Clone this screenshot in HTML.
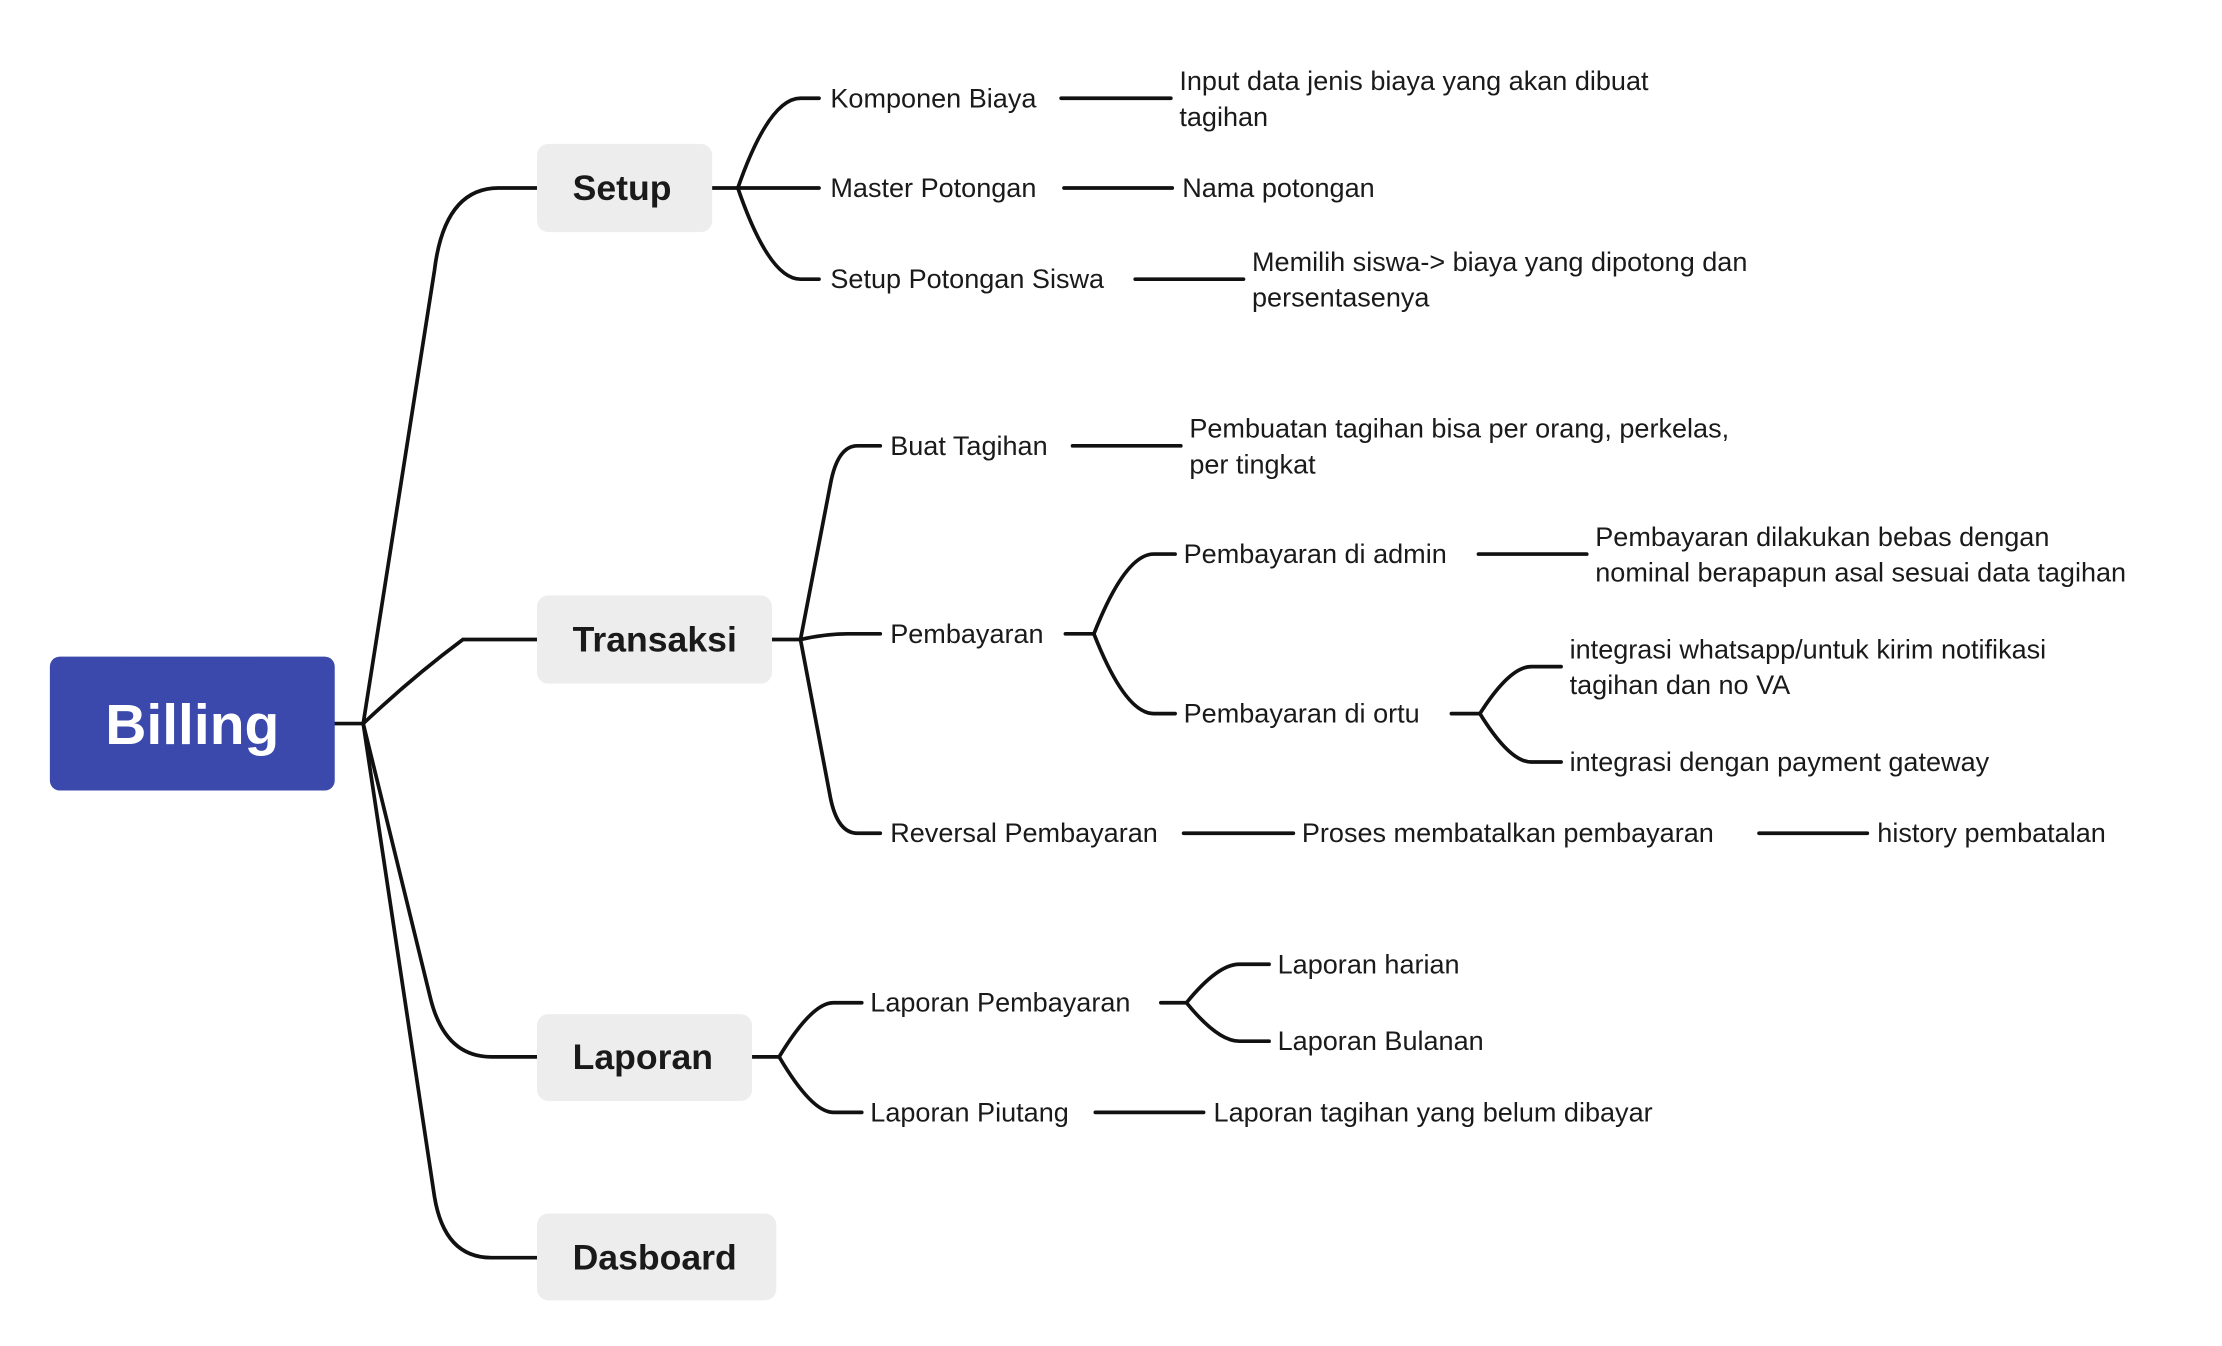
<!DOCTYPE html>
<html><head><meta charset="utf-8"><style>html,body{margin:0;padding:0;background:#fff;}svg{display:block}</style></head>
<body>
<svg width="2222" height="1346" viewBox="0 0 1560 945" xmlns="http://www.w3.org/2000/svg" font-family="Liberation Sans, sans-serif">
<g fill="none" stroke="#111" stroke-width="2.6" stroke-linecap="round">
<path d="M235 508 L255 508"/>
<path d="M255 508 L305 190 Q312 132 350 132 L377 132"/>
<path d="M255 508 Q290 475 325 449 L377 449"/>
<path d="M255 508 L302 700 Q312 742 345 742 L377 742"/>
<path d="M255 508 L305 840 Q312 883 345 883 L377 883"/>
<!-- setup -->
<path d="M500 132 L518 132"/>
<path d="M518 132 Q540 69 562 69 L575 69"/>
<path d="M518 132 L575 132"/>
<path d="M518 132 Q540 196 562 196 L575 196"/>
<path d="M745 69 L822 69"/><path d="M747 132 L823 132"/><path d="M797 196 L873 196"/>
<!-- transaksi -->
<path d="M542 449 L562 449"/>
<path d="M562 449 L583 340 Q588 313 602 313 L618 313"/>
<path d="M562 449 Q580 445 595 445 L618 445"/>
<path d="M562 449 L583 560 Q588 585 602 585 L618 585"/>
<path d="M753 313 L829 313"/>
<path d="M748 445 L768 445"/>
<path d="M768 445 Q790 389 810 389 L825 389"/>
<path d="M768 445 Q790 501 810 501 L825 501"/>
<path d="M1038 389 L1114 389"/>
<path d="M1019 501 L1039 501"/>
<path d="M1039 501 Q1060 468 1075 468 L1096 468"/>
<path d="M1039 501 Q1060 535 1075 535 L1096 535"/>
<path d="M831 585 L908 585"/><path d="M1235 585 L1311 585"/>
<!-- laporan -->
<path d="M528 742 L547 742"/>
<path d="M547 742 Q570 704 585 704 L605 704"/>
<path d="M547 742 Q570 781 585 781 L605 781"/>
<path d="M815 704 L833 704"/>
<path d="M833 704 Q855 677 870 677 L891 677"/>
<path d="M833 704 Q855 731 870 731 L891 731"/>
<path d="M769 781 L845 781"/>
</g>
<rect x="35" y="461" width="200" height="94" rx="7" fill="#3a49ab"/>
<text x="135" y="509" fill="#fff" font-size="40" font-weight="bold" text-anchor="middle" dominant-baseline="central">Billing</text>
<g fill="#ededed">
<rect x="377" y="101" width="123" height="62" rx="8"/>
<rect x="377" y="418" width="165" height="62" rx="8"/>
<rect x="377" y="712" width="151" height="61" rx="8"/>
<rect x="377" y="852" width="168" height="61" rx="8"/>
</g>
<g font-size="25" font-weight="bold" fill="#1a1a1a" dominant-baseline="central">
<text x="402" y="132">Setup</text>
<text x="402" y="449">Transaksi</text>
<text x="402" y="742">Laporan</text>
<text x="402" y="883">Dasboard</text>
</g>
<g font-size="19" fill="#1a1a1a" dominant-baseline="central">
<text x="583" y="69">Komponen Biaya</text>
<text x="828" y="57">Input data jenis biaya yang akan dibuat</text>
<text x="828" y="82">tagihan</text>
<text x="583" y="132">Master Potongan</text>
<text x="830" y="132">Nama potongan</text>
<text x="583" y="196">Setup Potongan Siswa</text>
<text x="879" y="184">Memilih siswa-&gt; biaya yang dipotong dan</text>
<text x="879" y="209">persentasenya</text>
<text x="625" y="313">Buat Tagihan</text>
<text x="835" y="301">Pembuatan tagihan bisa per orang, perkelas,</text>
<text x="835" y="326">per tingkat</text>
<text x="625" y="445">Pembayaran</text>
<text x="831" y="389">Pembayaran di admin</text>
<text x="1120" y="377">Pembayaran dilakukan bebas dengan</text>
<text x="1120" y="402">nominal berapapun asal sesuai data tagihan</text>
<text x="831" y="501">Pembayaran di ortu</text>
<text x="1102" y="456">integrasi whatsapp/untuk kirim notifikasi</text>
<text x="1102" y="481">tagihan dan no VA</text>
<text x="1102" y="535">integrasi dengan payment gateway</text>
<text x="625" y="585">Reversal Pembayaran</text>
<text x="914" y="585">Proses membatalkan pembayaran</text>
<text x="1318" y="585">history pembatalan</text>
<text x="611" y="704">Laporan Pembayaran</text>
<text x="897" y="677">Laporan harian</text>
<text x="897" y="731">Laporan Bulanan</text>
<text x="611" y="781">Laporan Piutang</text>
<text x="852" y="781">Laporan tagihan yang belum dibayar</text>
</g>
</svg>
</body></html>
